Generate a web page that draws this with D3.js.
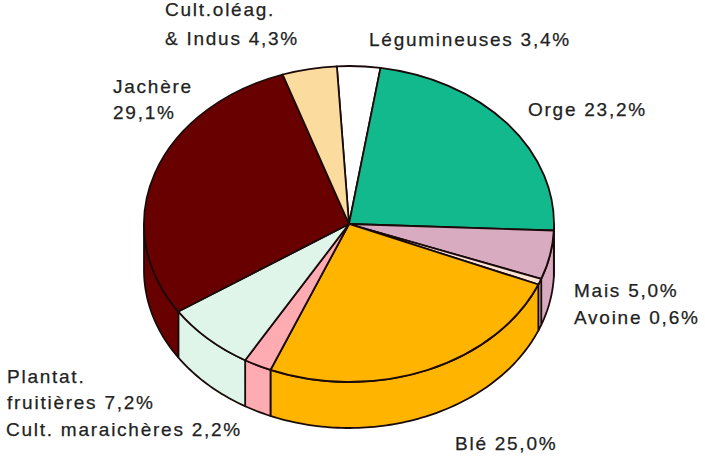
<!DOCTYPE html>
<html><head><meta charset="utf-8">
<script src="https://cdnjs.cloudflare.com/ajax/libs/d3/7.8.5/d3.min.js"></script>
<style>html,body{margin:0;background:#fff}svg{display:block}text{font-family:"Liberation Sans",Arial,sans-serif;font-size:19px;letter-spacing:1.75px;fill:#222;stroke:#222;stroke-width:.25px}</style>
</head><body><svg id="c" width="705" height="456"></svg>
<script>
const categories=["Légumineuses","Orge","Mais","Avoine","Blé","Cult. maraichères","Plantat. fruitières","Jachère","Cult.oléag. & Indus"];
const values=[3.4,23.2,5.0,0.6,25.0,2.2,7.2,29.1,4.3];
const colors=["#ffffff","#12b98c","#d9abc0","#fbe3d6","#ffb400","#ffabb2","#e0f5e9","#690000","#fbdc9e"];
const labelLines=[["Légumineuses 3,4%"],["Orge 23,2%"],["Mais 5,0%"],["Avoine 0,6%"],["Blé 25,0%"],["Cult. maraichères 2,2%"],["Plantat.","fruitières 7,2%"],["Jachère","29,1%"],["Cult.oléag.","& Indus 4,3%"]];
const labelAt=[[369,46],[528,116],[574,297],[574,324],[455,450],[6,436],[7,383],[113,93],[165,16]];
const cx=349,cy=224,rx=205,ry=158,depth=46,start=-3.4*Math.PI/180;
const svg=d3.select("#c");
const pie=d3.pie().sort(null).value(d=>d).startAngle(start).endAngle(start+2*Math.PI);
const arcs=pie(values).map((a,i)=>({...a,i}));
const px=t=>cx+rx*Math.sin(t), py=t=>cy-ry*Math.cos(t);
const ink="#1a0a0a";
// side walls: the front half of the rim, t in [pi/2, 3pi/2]
function sidePath(a){
  const t0=Math.max(a.startAngle,Math.PI/2),t1=Math.min(a.endAngle,3*Math.PI/2);
  if(t1<=t0) return null;
  const p=d3.path();
  p.moveTo(px(t0),py(t0));
  const n=Math.ceil((t1-t0)/0.02);
  d3.range(n+1).forEach(k=>{const t=t0+(t1-t0)*k/n;p.lineTo(px(t),py(t));});
  d3.range(n,-1,-1).forEach(k=>{const t=t0+(t1-t0)*k/n;p.lineTo(px(t),py(t)+depth);});
  p.closePath();
  return p.toString();
}
svg.append("g").selectAll("path").data(arcs.filter(a=>sidePath(a))).join("path")
  .attr("d",sidePath).attr("fill",a=>colors[a.i]).attr("stroke",ink).attr("stroke-width",1.8).attr("stroke-linejoin","round");
// top face: d3.arc on a unit-less radius, squashed into the ellipse
const arc=d3.arc().innerRadius(0).outerRadius(rx);
svg.append("g").attr("transform",`translate(${cx},${cy}) scale(1,${ry/rx})`)
  .selectAll("path").data(arcs).join("path")
  .attr("d",arc).attr("fill",a=>colors[a.i]).attr("stroke",ink).attr("stroke-width",1.8)
  .attr("stroke-linejoin","round").attr("vector-effect","non-scaling-stroke");
// labels
arcs.forEach(a=>{
  const lines=labelLines[a.i],[x,y]=labelAt[a.i];
  const lh=a.i===8?29:26;
  lines.forEach((s,k)=>svg.append("text").attr("x",x).attr("y",y+k*lh).text(s));
});
</script></body></html>
